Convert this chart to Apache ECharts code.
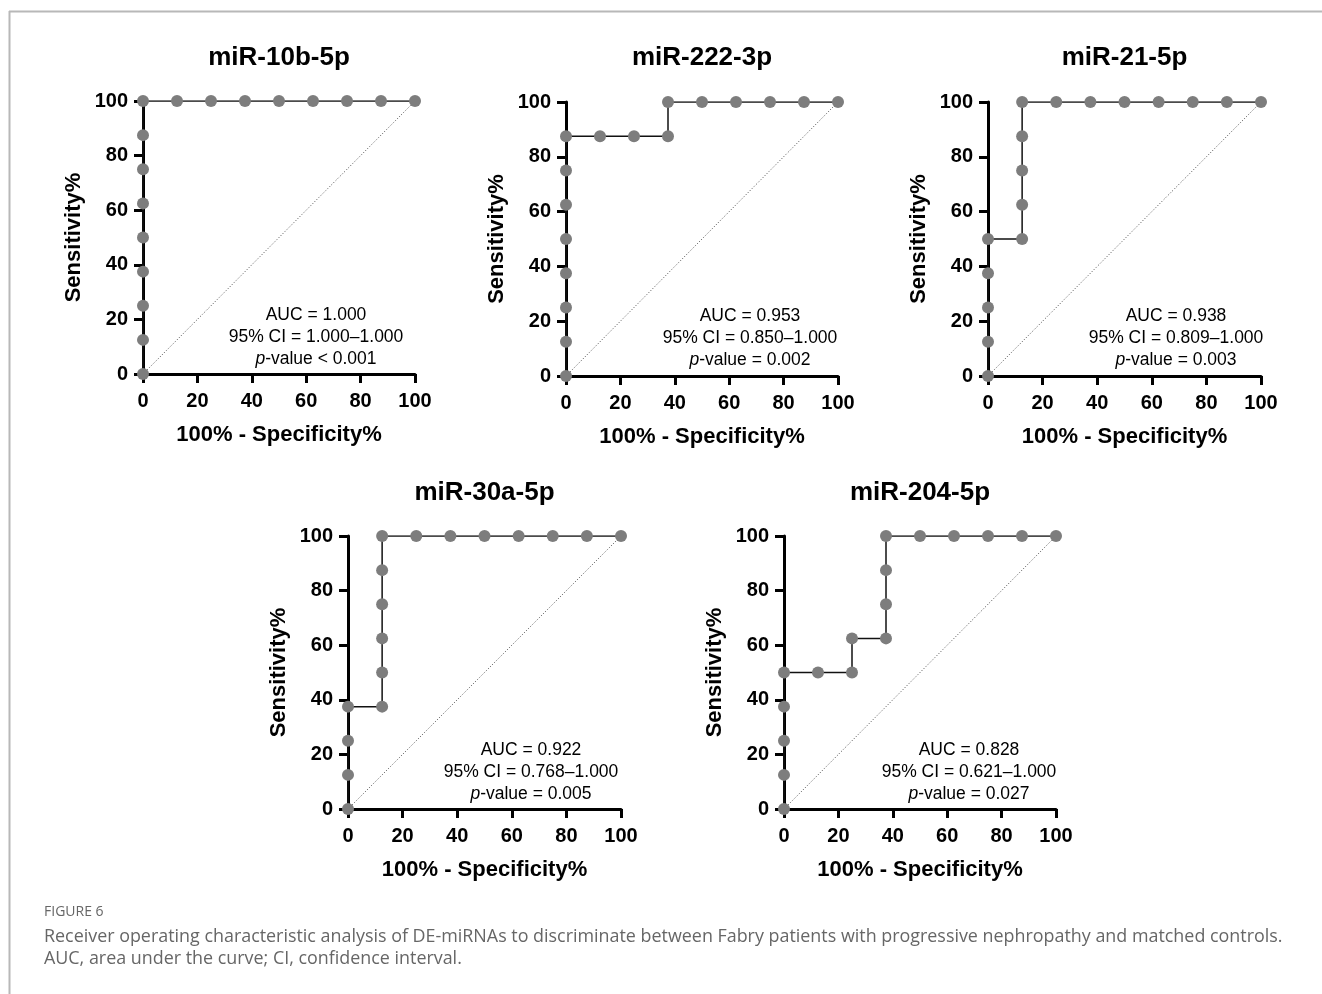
<!DOCTYPE html>
<html><head><meta charset="utf-8">
<script src="https://cdn.jsdelivr.net/npm/echarts@6/dist/echarts.min.js"></script>
<style>html,body{margin:0;padding:0;background:#fff}#c{width:1322px;height:994px}</style>
</head><body><div id="c"></div>
<script>
// ---- data ----
const panelTitles = ['miR-10b-5p', 'miR-222-3p', 'miR-21-5p', 'miR-30a-5p', 'miR-204-5p'];
// 100% - Specificity% (x) and Sensitivity% (y) for each ROC curve
const x10b = [0, 0, 0, 0, 0, 0, 0, 0, 0, 12.5, 25, 37.5, 50, 62.5, 75, 87.5, 100];
const y10b = [0, 12.5, 25, 37.5, 50, 62.5, 75, 87.5, 100, 100, 100, 100, 100, 100, 100, 100, 100];
const x222 = [0, 0, 0, 0, 0, 0, 0, 0, 12.5, 25, 37.5, 37.5, 50, 62.5, 75, 87.5, 100];
const y222 = [0, 12.5, 25, 37.5, 50, 62.5, 75, 87.5, 87.5, 87.5, 87.5, 100, 100, 100, 100, 100, 100];
const x21 = [0, 0, 0, 0, 0, 12.5, 12.5, 12.5, 12.5, 12.5, 25, 37.5, 50, 62.5, 75, 87.5, 100];
const y21 = [0, 12.5, 25, 37.5, 50, 50, 62.5, 75, 87.5, 100, 100, 100, 100, 100, 100, 100, 100];
const x30a = [0, 0, 0, 0, 12.5, 12.5, 12.5, 12.5, 12.5, 12.5, 25, 37.5, 50, 62.5, 75, 87.5, 100];
const y30a = [0, 12.5, 25, 37.5, 37.5, 50, 62.5, 75, 87.5, 100, 100, 100, 100, 100, 100, 100, 100];
const x204 = [0, 0, 0, 0, 0, 12.5, 25, 25, 37.5, 37.5, 37.5, 37.5, 50, 62.5, 75, 87.5, 100];
const y204 = [0, 12.5, 25, 37.5, 50, 50, 50, 62.5, 62.5, 75, 87.5, 100, 100, 100, 100, 100, 100];
const refX = [0, 100];
const refY = [0, 100];
const aucText = ['AUC = 1.000', 'AUC = 0.953', 'AUC = 0.938', 'AUC = 0.922', 'AUC = 0.828'];
const ciText = ['95% CI = 1.000\u20131.000', '95% CI = 0.850\u20131.000', '95% CI = 0.809\u20131.000', '95% CI = 0.768\u20131.000', '95% CI = 0.621\u20131.000'];
const pText = ['-value < 0.001', '-value = 0.002', '-value = 0.003', '-value = 0.005', '-value = 0.027'];
const xAxisName = '100% - Specificity%';
const yAxisName = 'Sensitivity%';
const captionHead = 'FIGURE 6';
const captionLines = [
  'Receiver operating characteristic analysis of DE-miRNAs to discriminate between Fabry patients with progressive nephropathy and matched controls.',
  'AUC, area under the curve; CI, confidence interval.'
];

const curvesX = [x10b, x222, x21, x30a, x204];
const curvesY = [y10b, y222, y21, y30a, y204];

// ---- layout ----
const grids = [
  {left: 143, top: 101, width: 272, height: 273},
  {left: 566, top: 102, width: 272, height: 274},
  {left: 988, top: 102, width: 273, height: 274},
  {left: 348, top: 536, width: 273, height: 273},
  {left: 784, top: 536, width: 272, height: 273}
];
const annoCX = [316, 750, 1176, 531, 969];
const annoY0 = [315, 316, 316, 750, 750];
const titleY = [58, 58, 58, 493, 493];

const FONT = '"Liberation Sans", Arial, Helvetica, sans-serif';
const chart = echarts.init(document.getElementById('c'), null, {renderer: 'canvas'});

const xAxes = [], yAxes = [], series = [], graphics = [];
const axisCommon = {
  type: 'value', min: 0, max: 100, interval: 20,
  axisLine: {show: true, onZero: false, lineStyle: {color: '#000', width: 3}},
  axisTick: {show: true, length: 9, lineStyle: {color: '#000', width: 3}},
  splitLine: {show: false},
  axisLabel: {color: '#000', fontFamily: FONT, fontWeight: 'bold', fontSize: 20},
  nameLocation: 'middle',
  nameTextStyle: {color: '#000', fontFamily: FONT, fontWeight: 'bold', fontSize: 22}
};
grids.forEach((g, i) => {
  xAxes.push(Object.assign({}, axisCommon, {gridIndex: i, name: xAxisName, nameGap: 50,
    axisLabel: Object.assign({}, axisCommon.axisLabel, {margin: 17})}));
  yAxes.push(Object.assign({}, axisCommon, {gridIndex: i, name: yAxisName, nameGap: 58,
    axisLabel: Object.assign({}, axisCommon.axisLabel, {margin: 15})}));
  series.push({
    type: 'line', xAxisIndex: i, yAxisIndex: i, silent: true, symbol: 'none',
    data: refX.map((v, k) => [v, refY[k]]),
    lineStyle: {color: '#444', width: 1, type: [1, 2]}, z: 2
  });
  series.push({
    type: 'line', xAxisIndex: i, yAxisIndex: i, silent: true,
    data: curvesX[i].map((v, k) => [v, curvesY[i][k]]),
    symbol: 'circle', symbolSize: 12, showAllSymbol: true,
    itemStyle: {color: '#7d7d7d', borderWidth: 0},
    lineStyle: {color: '#111', width: 1.5}, z: 3
  });
  graphics.push({
    type: 'text', x: g.left + g.width / 2, y: titleY[i],
    style: {text: panelTitles[i], font: 'bold 26px ' + FONT, fill: '#000', textAlign: 'center', textVerticalAlign: 'middle'}
  });
  graphics.push({
    type: 'text', x: annoCX[i], y: annoY0[i],
    style: {text: aucText[i], font: '17.5px ' + FONT, fill: '#000', textAlign: 'center', textVerticalAlign: 'middle'}
  });
  graphics.push({
    type: 'text', x: annoCX[i], y: annoY0[i] + 22,
    style: {text: ciText[i], font: '17.5px ' + FONT, fill: '#000', textAlign: 'center', textVerticalAlign: 'middle'}
  });
  graphics.push({
    type: 'text', x: annoCX[i], y: annoY0[i] + 44,
    style: {text: '{i|p}' + pText[i], font: '17.5px ' + FONT, fill: '#000', textAlign: 'center', textVerticalAlign: 'middle',
      rich: {i: {fontStyle: 'italic', fontSize: 17.5, fontFamily: FONT, fill: '#000'}}}
  });
});
// frame lines
graphics.push({type: 'line', shape: {x1: 9, y1: 11.5, x2: 1322, y2: 11.5}, style: {stroke: '#b8b8b8', lineWidth: 2}});
graphics.push({type: 'line', shape: {x1: 9.5, y1: 11, x2: 9.5, y2: 994}, style: {stroke: '#b8b8b8', lineWidth: 2}});
// caption
graphics.push({type: 'text', x: 44, y: 912, style: {text: captionHead, font: '14px "Open Sans", sans-serif', fill: '#666', textVerticalAlign: 'middle'}});
captionLines.forEach((t, k) => {
  graphics.push({type: 'text', x: 44, y: 937 + 22 * k, style: {text: t, font: '17.9px "Open Sans", sans-serif', fill: '#666', textVerticalAlign: 'middle'}});
});

chart.setOption({
  backgroundColor: '#fff',
  animation: false,
  grid: grids.map(g => Object.assign({containLabel: false}, g)),
  xAxis: xAxes,
  yAxis: yAxes,
  series: series,
  graphic: graphics
});
</script></body></html>
